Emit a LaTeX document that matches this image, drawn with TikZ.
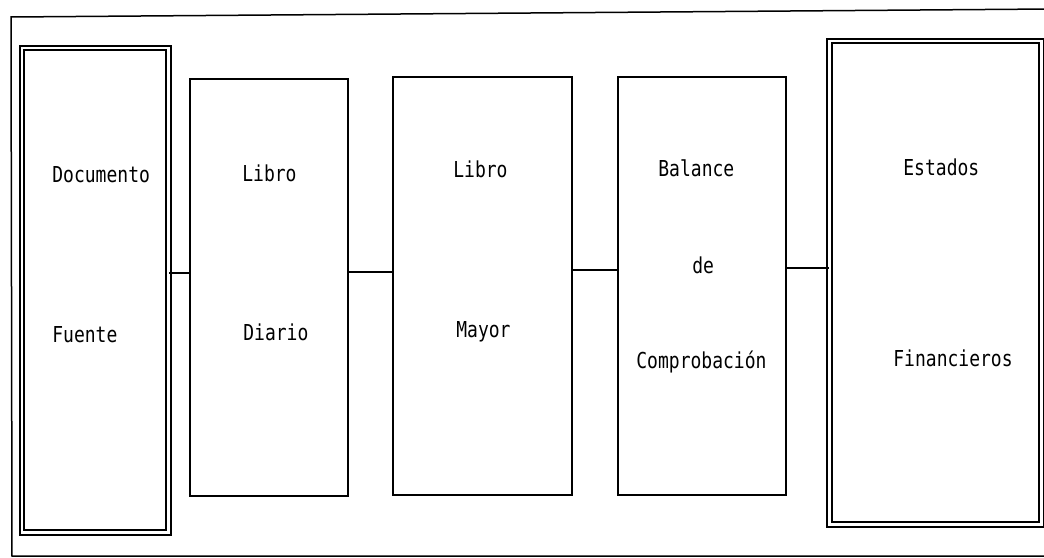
\documentclass[tikz,border=0pt]{standalone}
\usepackage{graphicx}
\usepackage{fontspec}
\setmonofont{DejaVu Sans Mono}
\newcommand\talltext[1]{\scalebox{1}[1.22]{#1}}
\begin{document}
\begin{tikzpicture}[x=0.5pt,y=-0.5pt,
  box/.style={draw, line width=1pt, inner sep=0pt},
  dbox/.style={draw, line width=0.9pt, double, double distance=1.3pt, inner sep=0pt},
  lbl/.style={anchor=base west, inner sep=0pt, font=\ttfamily\fontsize{9}{10}\selectfont},
  conn/.style={line width=0.7pt},
  frame/.style={line width=0.75pt}
]
\useasboundingbox (0,0) rectangle (1044,557);
\clip (0,0) rectangle (1044,557);
% outer frame
\coordinate (ftr) at (1050,9);
\coordinate (ftl) at (11,17);
\coordinate (fbl) at (12,556);
\coordinate (fbr) at (1050,556);
\draw[frame] (ftr) -- (ftl) -- (fbl) -- (fbr);
% boxes
\node[dbox, minimum width=73.25pt, minimum height=242.25pt] (b1) at (95.25,290.25) {};
\node[box, minimum width=79pt, minimum height=208.5pt] (b2) at (269,287.5) {};
\node[box, minimum width=89.5pt, minimum height=209pt] (b3) at (482.5,286) {};
\node[box, minimum width=84pt, minimum height=209pt] (b4) at (702,286) {};
\node[dbox, minimum width=106pt, minimum height=241.75pt] (b5) at (935.5,282.75) {};
% labels
\node[lbl] (t1a) at (52,182) {\talltext{Documento}};
\node[lbl] (t1b) at (52,342) {\talltext{Fuente}};
\node[lbl] (t2a) at (242,181) {\talltext{Libro}};
\node[lbl] (t2b) at (243,340) {\talltext{Diario}};
\node[lbl] (t3a) at (453,177) {\talltext{Libro}};
\node[lbl] (t3b) at (456,337) {\talltext{Mayor}};
\node[lbl] (t4a) at (658,176) {\talltext{Balance}};
\node[lbl] (t4b) at (692,273) {\talltext{de}};
\node[lbl] (t4c) at (636,368) {\talltext{Comprobación}};
\node[lbl] (t5a) at (903,175) {\talltext{Estados}};
\node[lbl] (t5b) at (893,366) {\talltext{Financieros}};
% connectors
\draw[conn] (b1.east |- 0,273) -- (b2.west |- 0,273);
\draw[conn] (b2.east |- 0,272) -- (b3.west |- 0,272);
\draw[conn] (b3.east |- 0,270) -- (b4.west |- 0,270);
\draw[conn] (b4.east |- 0,268) -- (b5.west |- 0,268);
\end{tikzpicture}
\end{document}
